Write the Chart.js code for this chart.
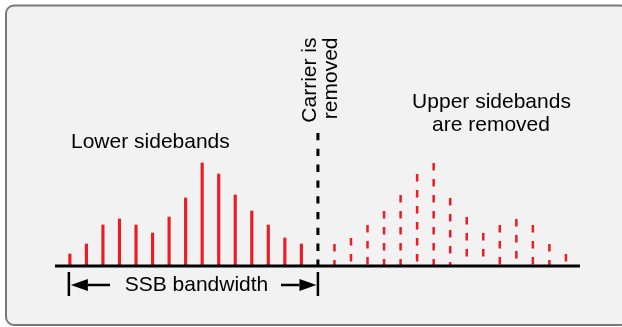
<!DOCTYPE html>
<html>
<head>
<meta charset="utf-8">
<script src="https://cdn.jsdelivr.net/npm/chart.js@4"></script>
<style>
    html, body { margin: 0; padding: 0; background: #fff; }
    canvas { display: block; }
</style>
</head>
<body>
<canvas id="ssbChart" width="622" height="327"></canvas>
<script>
// Slot positions along the frequency axis (carrier sits in slot 15)
const lowerSlots = [0, 1, 2, 3, 4, 5, 6, 7, 8, 9, 10, 11, 12, 13, 14];
const upperSlots = [16, 17, 18, 19, 20, 21, 22, 23, 24, 25, 26, 27, 28, 29, 30];
const carrierSlot = 15;

// Amplitudes
const lowerSidebands = [12, 22, 41, 47, 41, 33, 49, 68, 103, 92, 71, 55, 41, 28, 22];
const upperSidebands = [22, 28, 41, 55, 71, 92, 103, 68, 49, 33, 41, 47, 41, 22, 12];
const carrierHeight = 133;

const lowerLabel = 'Lower sidebands';
const upperLabel = ['Upper sidebands', 'are removed'];
const carrierLabel = ['Carrier is', 'removed'];
const bandwidthLabel = 'SSB bandwidth';

const RED = '#ec1c24';
const FONT = '21px "Liberation Sans", Arial, sans-serif';

function arrow(ctx, fromX, toX, y) {
    // shaft plus filled head pointing at toX
    const dir = toX > fromX ? 1 : -1;
    const headLen = 17;
    ctx.beginPath();
    ctx.moveTo(fromX, y);
    ctx.lineTo(toX - dir * headLen, y);
    ctx.stroke();
    ctx.beginPath();
    ctx.moveTo(toX, y);
    ctx.lineTo(toX - dir * headLen, y - 6);
    ctx.lineTo(toX - dir * headLen, y + 6);
    ctx.closePath();
    ctx.fill();
}

const diagramPlugin = {
    id: 'diagram',
    beforeDraw(chart) {
        const ctx = chart.ctx;
        ctx.save();
        ctx.fillStyle = '#fff';
        ctx.fillRect(0, 0, chart.width, chart.height);
        ctx.beginPath();
        ctx.roundRect(6, 5.5, 622, 319.5, 8);
        ctx.fillStyle = '#f2f2f2';
        ctx.fill();
        ctx.lineWidth = 2;
        ctx.strokeStyle = '#787878';
        ctx.stroke();
        ctx.restore();
    },
    afterDatasetsDraw(chart) {
        const { ctx, chartArea, scales: { x, y } } = chart;
        const y0 = y.getPixelForValue(0);
        ctx.save();

        // upper sidebands as dashed stems
        ctx.strokeStyle = RED;
        ctx.lineWidth = 2.5;
        ctx.setLineDash([7.5, 8.5]);
        chart.getDatasetMeta(1).data.forEach(bar => {
            ctx.beginPath();
            ctx.moveTo(bar.x, bar.y);
            ctx.lineTo(bar.x, bar.base);
            ctx.stroke();
        });

        // carrier (removed)
        const cx = x.getPixelForValue(carrierSlot);
        ctx.strokeStyle = '#000';
        ctx.lineWidth = 3;
        ctx.setLineDash([7.3, 8.5]);
        ctx.beginPath();
        ctx.moveTo(cx, y.getPixelForValue(carrierHeight));
        ctx.lineTo(cx, y0);
        ctx.stroke();

        // baseline
        ctx.setLineDash([]);
        ctx.beginPath();
        ctx.moveTo(chartArea.left, y0);
        ctx.lineTo(chartArea.right, y0);
        ctx.stroke();

        // SSB bandwidth markers
        const lx = x.getPixelForValue(lowerSlots[0]) - 1;
        ctx.lineWidth = 2.5;
        ctx.fillStyle = '#000';
        ctx.beginPath();
        ctx.moveTo(lx, y0 + 6);
        ctx.lineTo(lx, y0 + 30);
        ctx.moveTo(cx, y0 + 6);
        ctx.lineTo(cx, y0 + 30);
        ctx.stroke();
        arrow(ctx, 110, lx + 2, y0 + 19);
        arrow(ctx, 281, cx - 1.5, y0 + 19);

        // texts
        ctx.font = FONT;
        ctx.fillStyle = '#000';
        ctx.textBaseline = 'alphabetic';
        ctx.textAlign = 'left';
        ctx.fillText(lowerLabel, 71, 148);
        ctx.textAlign = 'center';
        ctx.fillText(upperLabel[0], 491.5, 107.5);
        ctx.fillText(upperLabel[1], 491, 131);
        ctx.fillText(bandwidthLabel, 196.5, 291);

        [315.5, 337].forEach((bx, i) => {
            ctx.save();
            ctx.translate(bx, 37.5);
            ctx.rotate(-Math.PI / 2);
            ctx.textAlign = 'right';
            ctx.fillText(carrierLabel[i], 0, 0);
            ctx.restore();
        });

        ctx.restore();
    }
};

const ctxSsb = document.getElementById('ssbChart').getContext('2d');
new Chart(ctxSsb, {
    type: 'bar',
    data: {
        datasets: [{
            label: 'Lower sidebands',
            data: lowerSlots.map((s, i) => ({ x: s, y: lowerSidebands[i] })),
            backgroundColor: RED,
            barThickness: 2.5,
            grouped: false
        }, {
            label: 'Upper sidebands',
            data: upperSlots.map((s, i) => ({ x: s, y: upperSidebands[i] })),
            backgroundColor: 'rgba(0, 0, 0, 0)',
            barThickness: 2.5,
            grouped: false
        }]
    },
    options: {
        responsive: false,
        animation: false,
        layout: {
            padding: { left: 55, right: 42, top: 126, bottom: 61 }
        },
        plugins: {
            legend: { display: false },
            tooltip: { enabled: false }
        },
        scales: {
            x: { type: 'linear', min: -0.9, max: 30.85, offset: false, display: false },
            y: { min: 0, max: 140, display: false }
        }
    },
    plugins: [diagramPlugin]
});
</script>
</body>
</html>
